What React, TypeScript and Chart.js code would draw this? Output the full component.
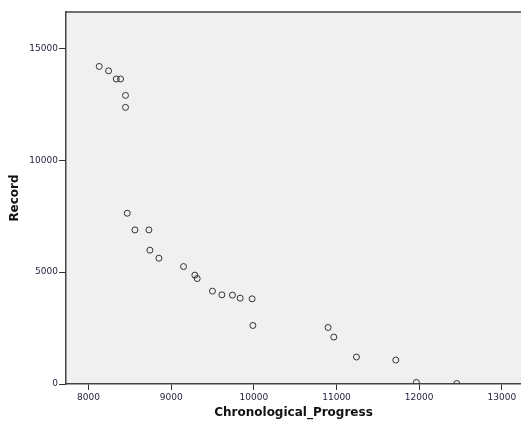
import React, { useEffect, useRef } from "react";
import { Chart, registerables } from "chart.js";

Chart.register(...registerables);

const progressValues: number[] = [
  8129, 8242, 8335, 8387, 8447, 8447, 8468, 8561, 8730, 8742, 8851, 9149, 9286,
  9314, 9499, 9613, 9741, 9834, 9979, 9988, 10898, 10967, 11241, 11717, 11966, 12455,
];
const recordValues: number[] = [
  14196, 14000, 13634, 13634, 12902, 12366, 7634, 6888, 6888, 5982, 5625, 5250, 4866,
  4714, 4152, 3987, 3973, 3839, 3808, 2616, 2527, 2098, 1205, 1071, 71, 20,
];
const xTickValues: number[] = [8000, 9000, 10000, 11000, 12000, 13000];
const yTickValues: number[] = [0, 5000, 10000, 15000];
const xTitle = "Chronological_Progress";
const yTitle = "Record";

const bgPlugin = {
  id: "plotBg",
  beforeDraw(chart: any) {
    const { ctx, chartArea } = chart;
    if (!chartArea) return;
    ctx.save();
    ctx.fillStyle = "#f0f0f0";
    ctx.fillRect(chartArea.left, chartArea.top, chartArea.right - chartArea.left, chartArea.bottom - chartArea.top);
    ctx.restore();
  },
  afterDraw(chart: any) {
    const { ctx, chartArea } = chart;
    if (!chartArea) return;
    ctx.save();
    ctx.strokeStyle = "#444444";
    ctx.lineWidth = 1.5;
    ctx.beginPath();
    ctx.moveTo(chartArea.left, chartArea.top);
    ctx.lineTo(chartArea.right, chartArea.top);
    ctx.stroke();
    ctx.restore();
  },
};

export default function App() {
  const ref = useRef<HTMLCanvasElement | null>(null);
  useEffect(() => {
    if (!ref.current) return;
    const data = progressValues.map((x, i) => ({ x, y: recordValues[i] }));
    const chart = new Chart(ref.current, {
      type: "scatter",
      data: {
        datasets: [
          {
            data,
            pointRadius: 3,
            pointHoverRadius: 3,
            pointBorderWidth: 1,
            pointBorderColor: "#333333",
            pointBackgroundColor: "rgba(0,0,0,0)",
            clip: 0,
          } as any,
        ],
      },
      options: {
        animation: false,
        responsive: false,
        events: [],
        layout: { autoPadding: false, padding: { top: 12, right: 0, left: 0, bottom: 0 } },
        plugins: { legend: { display: false }, tooltip: { enabled: false } },
        scales: {
          x: {
            type: "linear",
            min: 7727,
            max: 13232,
            afterBuildTicks: (scale: any) => {
              scale.ticks = xTickValues.map((v) => ({ value: v }));
            },
            afterFit: (scale: any) => {
              scale.height = 37;
              scale.paddingLeft = 0;
              scale.paddingRight = 0;
            },
            ticks: {
              callback: (v: any) => String(v),
              font: { family: "DejaVu Sans", size: 9 },
              color: "#1e1e3c",
              padding: 2,
              maxRotation: 0,
            },
            grid: { drawOnChartArea: false, drawTicks: true, tickLength: 6, color: "#333333", tickWidth: 1 },
            border: { display: true, color: "#444444", width: 1.5 },
            title: {
              display: true,
              text: xTitle,
              font: { family: "DejaVu Sans", size: 12, weight: "bold" },
              color: "#111111",
              padding: { top: 0, bottom: 1 },
            },
          },
          y: {
            type: "linear",
            min: 0,
            max: 16630,
            afterBuildTicks: (scale: any) => {
              scale.ticks = yTickValues.map((v) => ({ value: v }));
            },
            afterFit: (scale: any) => {
              scale.width = 66;
              scale.paddingTop = 0;
              scale.paddingBottom = 0;
            },
            ticks: {
              callback: (v: any) => String(v),
              font: { family: "DejaVu Sans", size: 9 },
              color: "#1e1e3c",
              padding: 1,
            },
            grid: { drawOnChartArea: false, drawTicks: true, tickLength: 7, color: "#333333", tickWidth: 1 },
            border: { display: true, color: "#444444", width: 1.5 },
            title: {
              display: true,
              text: yTitle,
              font: { family: "DejaVu Sans", size: 12, weight: "bold" },
              color: "#111111",
              padding: { top: 8, bottom: 0 },
            },
          },
        },
      },
      plugins: [bgPlugin],
    });
    return () => chart.destroy();
  }, []);
  return (
    <div style={{ position: "fixed", left: 0, top: 0, width: 521, height: 421, background: "#ffffff" }}>
      <canvas ref={ref} width={521} height={421} style={{ display: "block" }} />
    </div>
  );
}
